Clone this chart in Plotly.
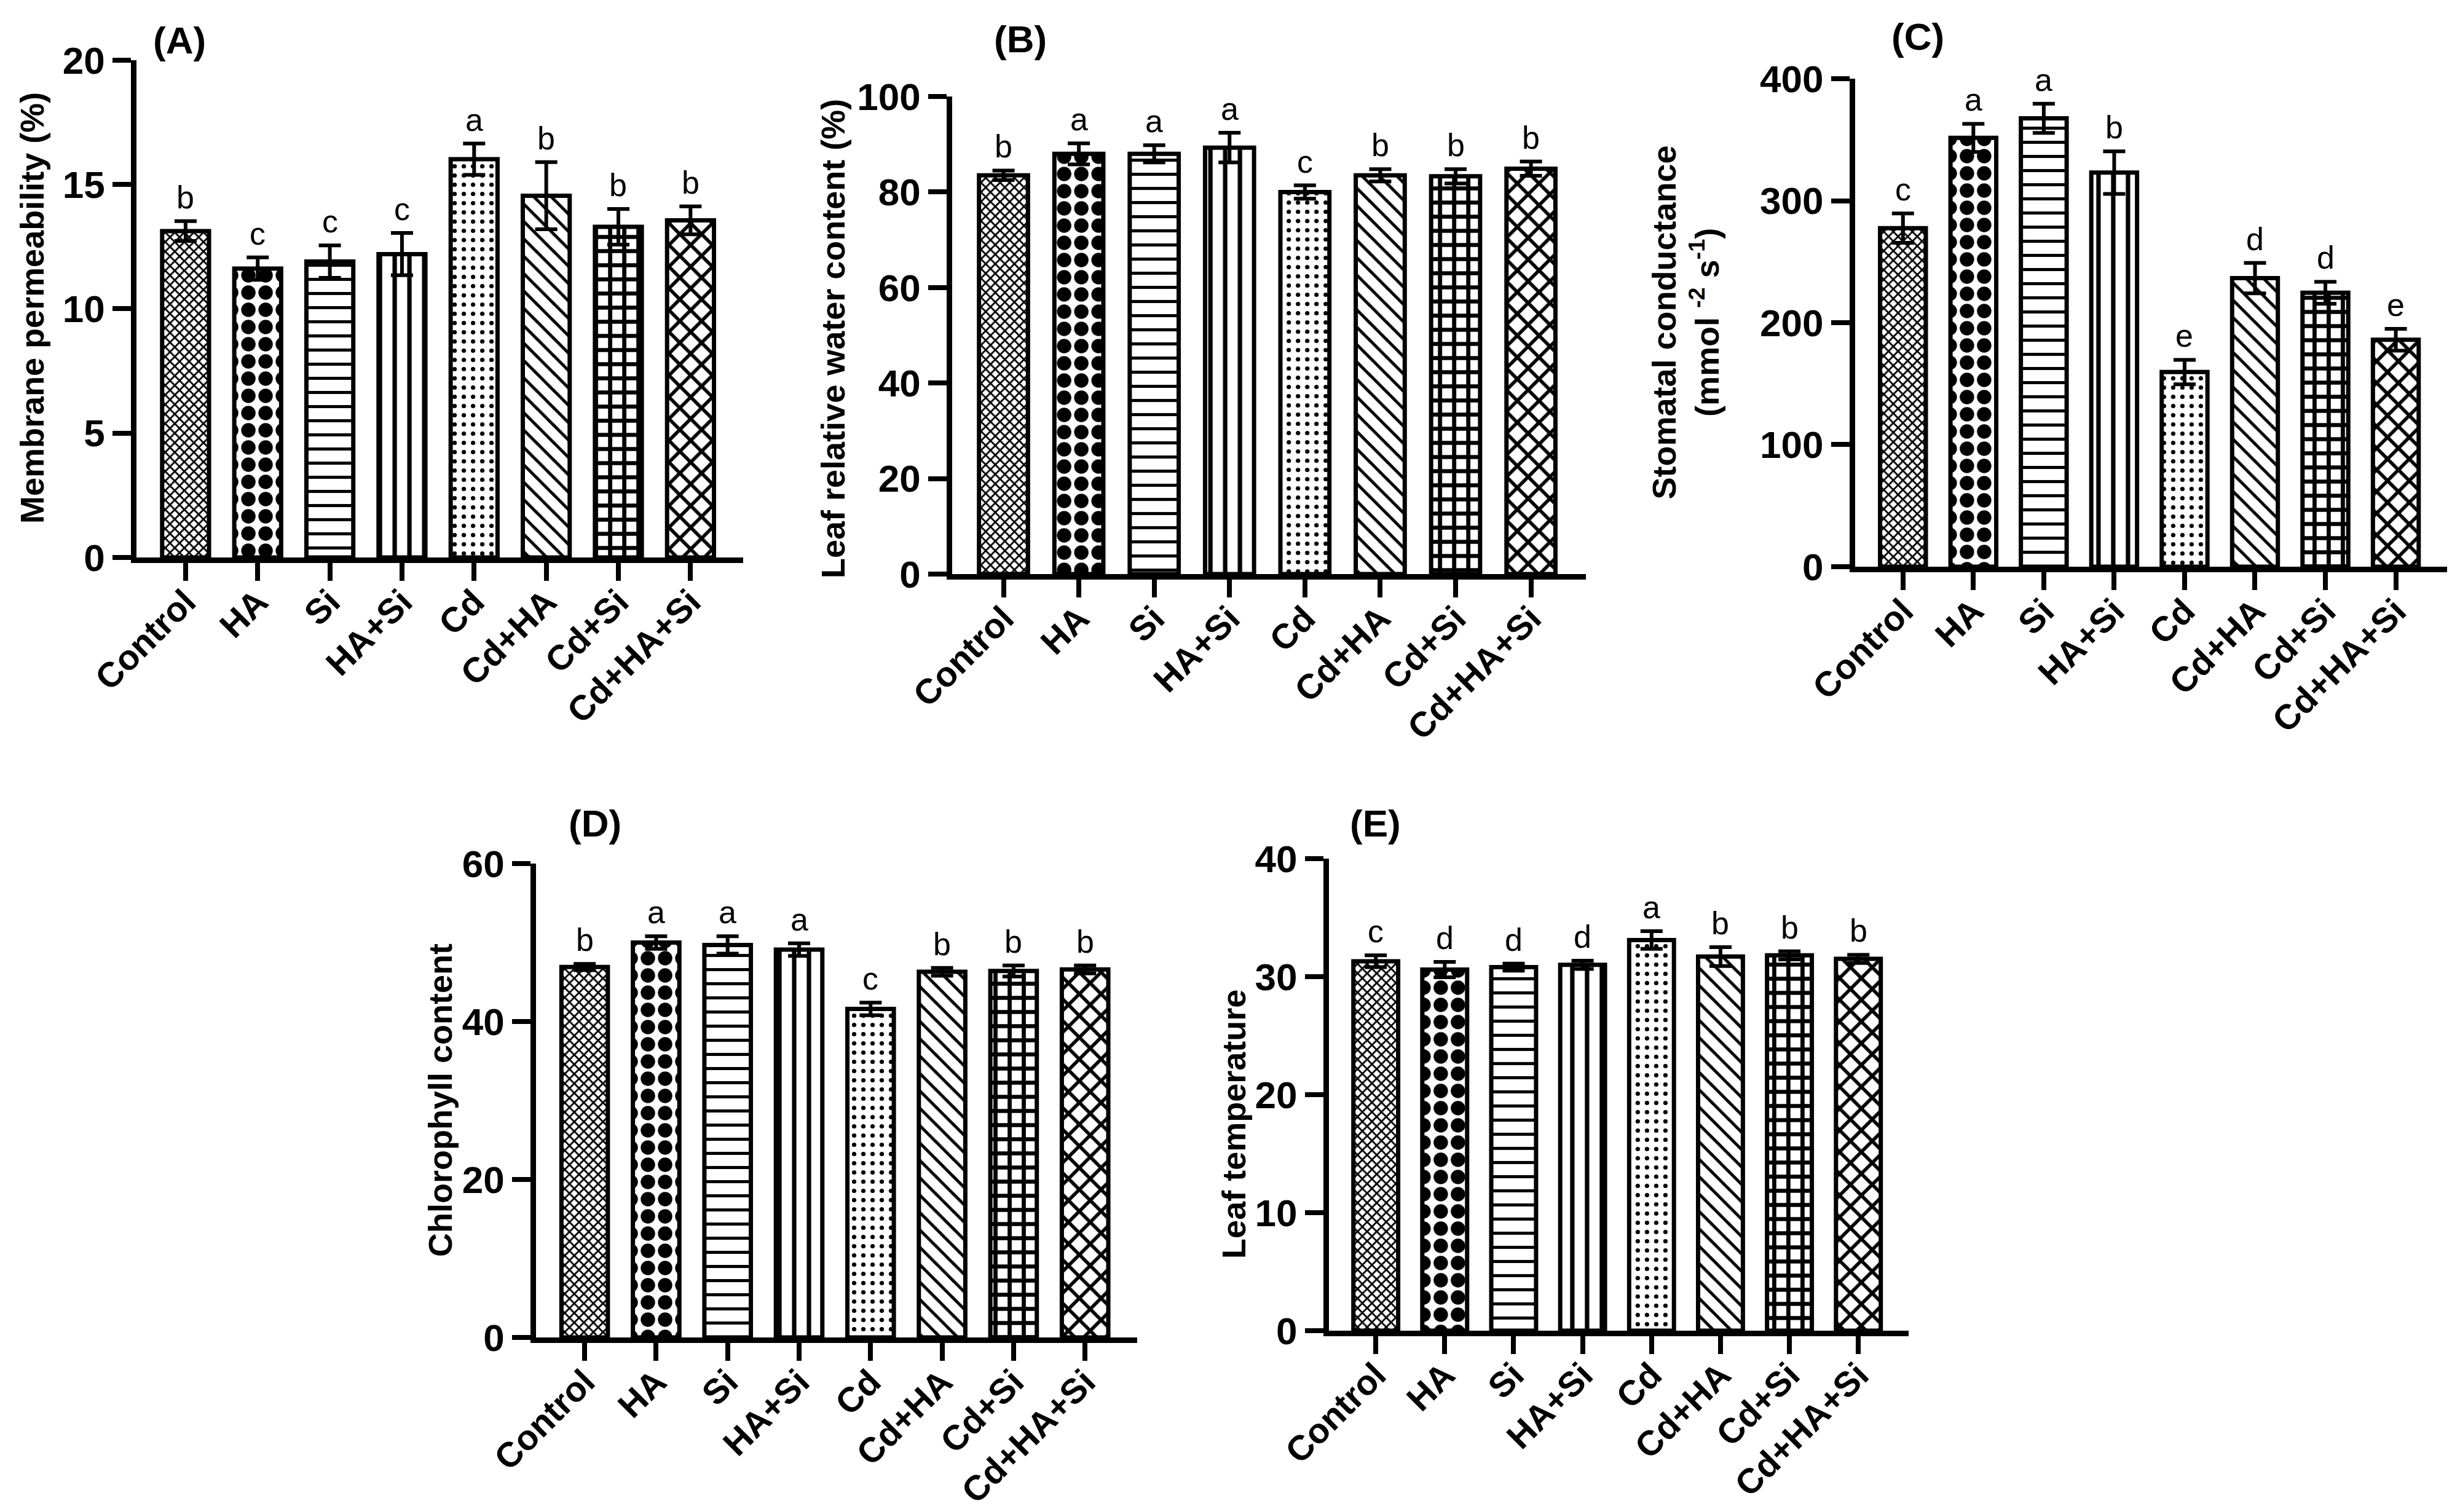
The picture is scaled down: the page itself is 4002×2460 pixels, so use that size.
import plotly.graph_objects as go

groups = ["Control", "HA", "Si", "HA+Si", "Cd", "Cd+HA", "Cd+Si", "Cd+HA+Si"]

# (A) membrane permeability
mp_mean = [13.13, 11.62, 11.9, 12.2, 16.02, 14.55, 13.3, 13.56]
mp_err = [0.4, 0.45, 0.65, 0.85, 0.63, 1.35, 0.72, 0.56]
mp_let = ["b", "c", "c", "c", "a", "b", "b", "b"]

# (B) leaf relative water content
rwc_mean = [83.5, 88.0, 88.0, 89.3, 80.0, 83.5, 83.3, 84.9]
rwc_err = [1.0, 2.2, 1.8, 3.1, 1.4, 1.3, 1.5, 1.5]
rwc_let = ["b", "a", "a", "a", "c", "b", "b", "b"]

# (C) stomatal conductance
gs_mean = [277.5, 351.5, 367.5, 323.0, 159.5, 236.5, 224.5, 186.0]
gs_err = [12.0, 11.5, 12.0, 17.5, 10.0, 12.5, 9.0, 9.0]
gs_let = ["c", "a", "a", "b", "e", "d", "d", "e"]

# (D) chlorophyll content
chl_mean = [46.9, 50.0, 49.7, 49.1, 41.6, 46.3, 46.4, 46.6]
chl_err = [0.4, 0.8, 1.1, 0.8, 0.8, 0.5, 0.7, 0.5]
chl_let = ["b", "a", "a", "a", "c", "b", "b", "b"]

# (E) leaf temperature
lt_mean = [31.3, 30.6, 30.8, 31.0, 33.1, 31.7, 31.8, 31.5]
lt_err = [0.5, 0.65, 0.3, 0.35, 0.75, 0.8, 0.35, 0.35]
lt_let = ["c", "d", "d", "d", "a", "b", "b", "b"]

# fill patterns per treatment
pat_shape = ["x", ".", "-", "|", ".", "\\", "+", "x"]
pat_size = [11, 28, 23, 24, 15, 20, 23, 25]
pat_solid = [0.45, 0.55, 0.22, 0.3, 0.18, 0.25, 0.5, 0.4]

FONT = "Liberation Sans, Arial, sans-serif"

panels = [
    dict(mean=mp_mean, err=mp_err, let=mp_let, title="Membrane permeability (%)",
         ticks=[0, 5, 10, 15, 20], yr=[0, 20], tag="(A)",
         xd=[0.0535, 0.3001], yd=[0.6346, 0.9634],
         tx=0.0110, ty=0.7996, lx=0.0710, ly=0.9768),
    dict(mean=rwc_mean, err=rwc_err, let=rwc_let, title="Leaf relative water content (%)",
         ticks=[0, 20, 40, 60, 80, 100], yr=[0, 100], tag="(B)",
         xd=[0.3851, 0.6427], yd=[0.6236, 0.9394],
         tx=0.3366, ty=0.7793, lx=0.4128, ly=0.9776),
    dict(mean=gs_mean, err=gs_err, let=gs_let,
         title="Stomatal conductance<br>(mmol <sup>-2</sup> s<sup>-1</sup>)",
         ticks=[0, 100, 200, 300, 400], yr=[0, 400], tag="(C)",
         xd=[0.7521, 0.9928], yd=[0.6285, 0.9512],
         tx=0.6832, ty=0.7901, lx=0.7776, ly=0.9789),
    dict(mean=chl_mean, err=chl_err, let=chl_let, title="Chlorophyll content",
         ticks=[0, 20, 40, 60], yr=[0, 60], tag="(D)",
         xd=[0.2159, 0.4603], yd=[0.1187, 0.4321],
         tx=0.1769, ty=0.2756, lx=0.2399, ly=0.4589),
    dict(mean=lt_mean, err=lt_err, let=lt_let, title="Leaf temperature",
         ticks=[0, 10, 20, 30, 40], yr=[0, 40], tag="(E)",
         xd=[0.5382, 0.7739], yd=[0.1232, 0.4354],
         tx=0.4995, ty=0.2598, lx=0.5572, ly=0.4589),
]

fig = go.Figure()
annotations = []
layout = {}

for i, p in enumerate(panels):
    n = "" if i == 0 else str(i + 1)
    fig.add_trace(go.Bar(
        x=groups, y=p["mean"], width=0.65,
        xaxis="x" + n, yaxis="y" + n,
        marker=dict(color="white",
                    line=dict(color="black", width=7),
                    pattern=dict(shape=pat_shape, size=pat_size, solidity=pat_solid,
                                 fgcolor="black", bgcolor="white", fillmode="replace")),
        error_y=dict(type="data", array=p["err"], symmetric=True,
                     color="black", thickness=6, width=18),
        showlegend=False,
    ))

    layout["xaxis" + n] = dict(
        domain=p["xd"], anchor="y" + n, type="category", range=[-0.68, 7.73],
        automargin=False,
        showline=True, linecolor="black", linewidth=9,
        ticks="outside", ticklen=29, tickwidth=8, tickcolor="black",
        tickangle=-45, ticklabelstandoff=-22, showgrid=False, zeroline=False,
        tickfont=dict(family=FONT, size=57, color="black", weight="bold"),
    )
    layout["yaxis" + n] = dict(
        domain=p["yd"], anchor="x" + n, range=p["yr"], tickvals=p["ticks"],
        automargin=False,
        showline=True, linecolor="black", linewidth=9,
        ticks="outside", ticklen=30, tickwidth=8, tickcolor="black",
        showgrid=False, zeroline=False,
        tickfont=dict(family=FONT, size=62, color="black", weight="bold"),
    )

    # significance letters above the error bars
    for g, m, e, t in zip(groups, p["mean"], p["err"], p["let"]):
        annotations.append(dict(
            x=g, y=m + e, xref="x" + n, yref="y" + n, text=t, showarrow=False,
            yanchor="bottom", yshift=8,
            font=dict(family=FONT, size=52, color="black"),
        ))

    annotations.append(dict(
        x=p["tx"], y=p["ty"], xref="paper", yref="paper", text="<b>" + p["title"] + "</b>",
        textangle=-90, showarrow=False, xanchor="center", yanchor="middle",
        font=dict(family=FONT, size=54, color="black"),
    ))
    annotations.append(dict(
        x=p["lx"], y=p["ly"], xref="paper", yref="paper", text="<b>" + p["tag"] + "</b>",
        showarrow=False, xanchor="center", yanchor="middle",
        font=dict(family=FONT, size=62, color="black"),
    ))

fig.update_layout(
    width=4002, height=2460,
    margin=dict(l=0, r=0, t=0, b=0, autoexpand=False),
    paper_bgcolor="white", plot_bgcolor="white",
    bargap=0.35,
    annotations=annotations,
    **layout,
)

fig.write_html("out.html")
